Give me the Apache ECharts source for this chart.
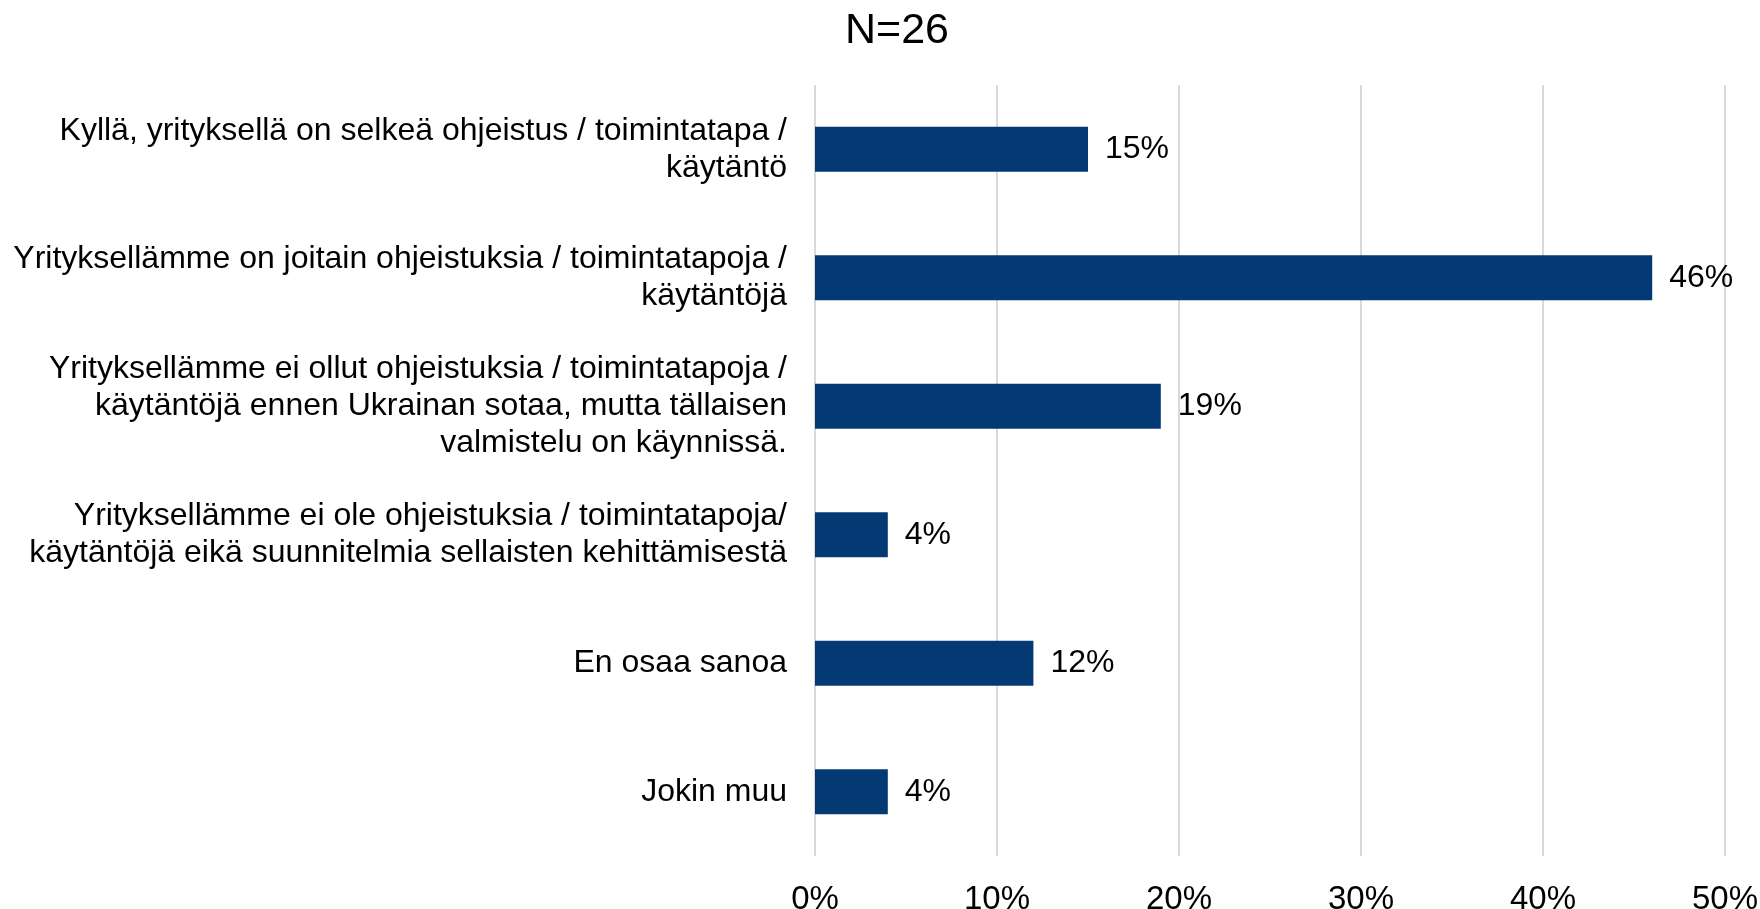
<!DOCTYPE html>
<html>
<head>
<meta charset="utf-8">
<script src="https://cdn.jsdelivr.net/npm/echarts@6/dist/echarts.min.js"></script>
<style>
  html, body { margin: 0; padding: 0; background: #fff; }
  #chart { width: 1760px; height: 909px; }
</style>
</head>
<body>
<div id="chart"></div>
<script>
// vastausvaihtoehdot (rivinvaihdot kuten alkuperäisessä)
var categories = [
  'Kyllä, yrityksellä on selkeä ohjeistus / toimintatapa /\nkäytäntö',
  'Yrityksellämme on joitain ohjeistuksia / toimintatapoja /\nkäytäntöjä',
  'Yrityksellämme ei ollut ohjeistuksia / toimintatapoja /\nkäytäntöjä ennen Ukrainan sotaa, mutta tällaisen\nvalmistelu on käynnissä.',
  'Yrityksellämme ei ole ohjeistuksia / toimintatapoja/\nkäytäntöjä eikä suunnitelmia sellaisten kehittämisestä',
  'En osaa sanoa',
  'Jokin muu'
];
var values = [15, 46, 19, 4, 12, 4];
var xTicks = [0, 10, 20, 30, 40, 50];

var font = '"Liberation Sans", Arial, sans-serif';
var chart = echarts.init(document.getElementById('chart'));

var option = {
  animation: false,
  backgroundColor: '#fff',
  title: {
    text: 'N=26',
    left: 892,
    top: 5,
    textAlign: 'center',
    textStyle: { fontFamily: font, fontSize: 43, fontWeight: 'normal', color: '#000' }
  },
  grid: {
    left: 815, right: 35, top: 85, bottom: 53,
    containLabel: false,
    outerBoundsMode: 'none'
  },
  xAxis: {
    type: 'value',
    min: xTicks[0],
    max: xTicks[xTicks.length - 1],
    interval: 10,
    axisLine: { show: false },
    axisTick: { show: false },
    splitLine: { lineStyle: { color: '#d9d9d9', width: 2 } },
    axisLabel: {
      margin: 27,
      fontFamily: font, fontSize: 33, color: '#000',
      formatter: function (v) { return v + '%'; }
    }
  },
  yAxis: {
    type: 'category',
    inverse: true,
    data: categories,
    axisLine: { show: false },
    axisTick: { show: false },
    axisLabel: {
      margin: 28,
      fontFamily: font, fontSize: 32, color: '#000',
      lineHeight: 37, align: 'right'
    }
  },
  series: [{
    type: 'bar',
    data: values,
    barWidth: 45,
    itemStyle: { color: '#033a73' },
    label: {
      show: true,
      position: 'right',
      distance: 17,
      fontFamily: font, fontSize: 32, color: '#000',
      formatter: function (p) { return p.value + '%'; }
    }
  }]
};

chart.setOption(option);
</script>
</body>
</html>
